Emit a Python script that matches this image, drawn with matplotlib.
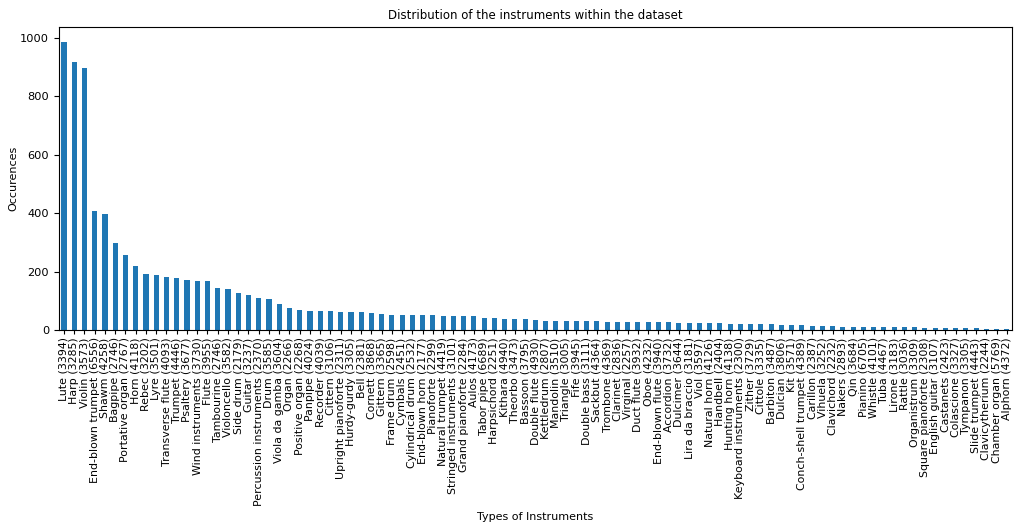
import matplotlib
matplotlib.use("Agg")
import matplotlib.pyplot as plt

# instrument names, their ids, and number of occurrences in the dataset
instruments = [
    "Lute", "Harp", "Violin", "End-blown trumpet", "Shawm", "Bagpipe",
    "Portative organ", "Horn", "Rebec", "Lyre", "Transverse flute", "Trumpet",
    "Psaltery", "Wind instruments", "Flute", "Tambourine", "Violoncello",
    "Side drum", "Guitar", "Percussion instruments", "Drum", "Viola da gamba",
    "Organ", "Positive organ", "Panpipe", "Recorder", "Cittern",
    "Upright pianoforte", "Hurdy-gurdy", "Bell", "Cornett", "Gittern",
    "Frame drum", "Cymbals", "Cylindrical drum", "End-blown horn", "Pianoforte",
    "Natural trumpet", "Stringed instruments", "Grand pianoforte", "Aulos",
    "Tabor pipe", "Harpsichord", "Kithara", "Theorbo", "Bassoon",
    "Double flute", "Kettledrum", "Mandolin", "Triangle", "Fife",
    "Double bass", "Sackbut", "Trombone", "Clarinet", "Virginal",
    "Duct flute", "Oboe", "End-blown flute", "Accordion", "Dulcimer",
    "Lira da braccio", "Viol", "Natural horn", "Handbell", "Hunting horn",
    "Keyboard instruments", "Zither", "Cittole", "Barbiton", "Dulcian", "Kit",
    "Conch-shell trumpet", "Carillon", "Vihuela", "Clavichord", "Nakers",
    "Qin", "Pianino", "Whistle", "Tuba", "Lirone", "Rattle", "Organistrum",
    "Square pianoforte", "English guitar", "Castanets", "Colascione",
    "Tympanon", "Slide trumpet", "Clavicytherium", "Chamber organ", "Alphorn",
]
ids = [
    3394, 3285, 3573, 6556, 4258, 2746, 2767, 4118, 3202, 3501, 4093, 4446,
    3677, 3730, 3955, 2746, 3582, 2179, 3237, 2370, 3585, 3604, 2266, 2268,
    4024, 4039, 3106, 2311, 3305, 2381, 3868, 3365, 2598, 2451, 2532, 2177,
    2299, 4419, 3101, 2284, 4173, 6689, 2251, 4940, 3473, 3795, 4930, 2807,
    3510, 3005, 3945, 3111, 4364, 4369, 2836, 2257, 3932, 4232, 3940, 3732,
    3644, 3181, 3597, 4126, 2404, 4138, 2300, 3729, 3335, 3487, 3806, 3571,
    4389, 2387, 3252, 2232, 2893, 3684, 6705, 4101, 4467, 3183, 3036, 3309,
    2308, 3107, 2423, 3327, 3305, 4443, 2244, 5769, 4372,
]
counts = [
    987, 919, 898, 408, 398, 300, 257, 220, 194, 190, 181, 178,
    173, 169, 169, 146, 142, 129, 121, 112, 108, 91, 78, 71,
    67, 66, 65, 63, 62, 62, 60, 55, 53, 53, 53, 52,
    52, 50, 49, 49, 48, 43, 43, 40, 38, 38, 34, 33,
    33, 32, 32, 31, 31, 30, 30, 29, 29, 28, 27, 27,
    26, 26, 25, 25, 24, 23, 23, 22, 21, 20, 19, 18,
    17, 15, 14, 14, 13, 13, 12, 12, 11, 11, 10, 10,
    9, 9, 8, 8, 7, 7, 6, 6, 5,
]

labels = [f"{n} ({i})" for n, i in zip(instruments, ids)]

fig = plt.figure(figsize=(10.15, 5.26), dpi=100)
ax = fig.add_axes([0.058, 0.372, 0.939, 0.576])

x = range(len(counts))
ax.bar(x, counts, width=0.5, color="#1f77b4")
ax.set_xlim(-0.5, len(counts) - 0.5)
ax.set_ylim(0, 1036)
ax.set_yticks([0, 200, 400, 600, 800, 1000])
ax.set_xticks(list(x))
ax.set_xticklabels(labels, rotation=90, fontsize=7.9)
ax.tick_params(axis="y", labelsize=8.2)
ax.tick_params(axis="x", length=3, pad=2)

ax.set_title("Distribution of the instruments within the dataset", fontsize=8.5)
ax.set_xlabel("Types of Instruments", fontsize=8)
ax.set_ylabel("Occurences", fontsize=8, labelpad=1)

fig.savefig("out.png", dpi=100)
